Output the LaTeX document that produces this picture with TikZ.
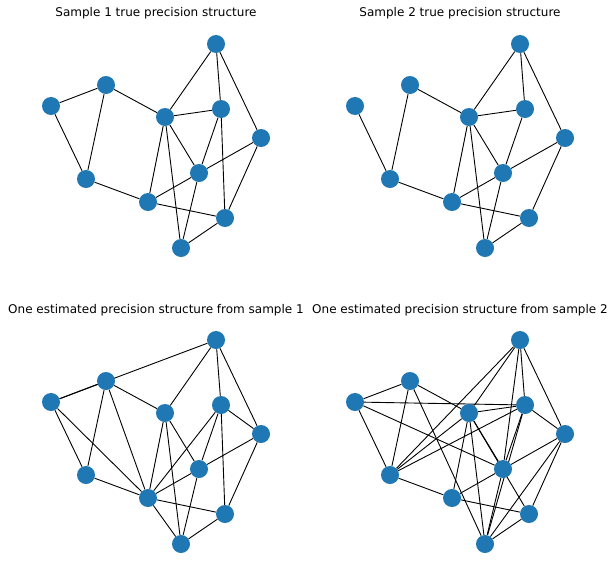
\documentclass[tikz,border=0pt]{standalone}
\usepackage{fontspec}
\setmainfont{DejaVu Sans}
\usepackage{xcolor}
\usepackage{tikz}
\usetikzlibrary{positioning, backgrounds}
\definecolor{nodeblue}{HTML}{1F77B4}

\begin{document}
\begin{tikzpicture}[
  x=1pt, y=-1pt,
  vertex/.style={circle, fill=nodeblue, draw=none, minimum size=18pt, inner sep=0pt},
  edge/.style={draw=black, line width=0.9pt},
  title/.style={font=\fontsize{12}{14}\selectfont, inner sep=0pt}
]
  \useasboundingbox (0,0) rectangle (615,573);

  % Titles
  \node[title] (title1) at (156,13) {Sample 1 true precision structure};
  \node[title] (title2) at (460,13) {Sample 2 true precision structure};
  \node[title] (title3) at (156,310) {One estimated precision structure from sample 1};
  \node[title] (title4) at (460,310) {One estimated precision structure from sample 2};

  % Nodes, same layout in every panel
  \foreach \p/\dx/\dy in {1/0/0, 2/304/0, 3/0/296, 4/304/296} {
    \foreach \n/\x/\y in {a/51/106, b/106/85, c/86/179, d/165/117, e/216/44, f/221/109,
                          g/261/138, h/199/173, i/148/202, j/225/218, k/181/248} {
      \node[vertex] (s\p\n) at (\x+\dx,\y+\dy) {};
    }
  }

  % Edges
  \begin{scope}[on background layer]
    \fill[white] (0,0) rectangle (615,573);
    % Sample 1 true
    \foreach \u/\v in {a/b, a/c, b/c, b/d, d/e, d/f, e/f, e/g, d/i, d/k, d/h,
                       f/h, f/j, g/h, g/j, h/i, h/k, c/i, i/j, j/k}
      \draw[edge] (s1\u) -- (s1\v);
    % Sample 2 true
    \foreach \u/\v in {a/c, b/c, b/d, d/e, d/f, e/f, e/g, d/i, d/k, d/h,
                       f/h, g/h, g/j, h/i, h/k, c/i, i/j, j/k}
      \draw[edge] (s2\u) -- (s2\v);
    % Estimate from sample 1
    \foreach \u/\v in {a/b, a/e, a/c, a/i, b/c, b/i, b/d, d/e, d/i, d/k, d/h,
                       e/f, e/g, f/i, f/h, f/g, f/j, g/h, g/j, h/i, h/k,
                       c/i, i/j, i/k, j/k}
      \draw[edge] (s3\u) -- (s3\v);
    % Estimate from sample 2
    \foreach \u/\v in {a/b, a/c, a/f, a/h, b/c, b/d, b/k, c/d, c/e, c/f, c/i,
                       d/e, d/f, d/h, d/i, d/j, d/k, e/f, e/g, e/h, f/g, f/h, f/k,
                       g/h, g/j, g/k, h/i, h/k, i/j, j/k}
      \draw[edge] (s4\u) -- (s4\v);
  \end{scope}
\end{tikzpicture}
\end{document}
